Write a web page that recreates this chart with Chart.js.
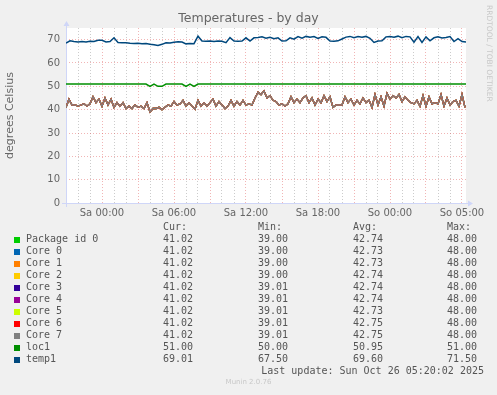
<!DOCTYPE html>
<html lang="de">
<head>
<meta charset="utf-8">
<title>Temperatures - by day</title>
<script src="https://cdn.jsdelivr.net/npm/chart.js@4.4.1/dist/chart.umd.min.js"></script>
<style>
    html, body { margin: 0; padding: 0; background: #f0f0f0; }
    #wrap { position: relative; width: 497px; height: 395px; overflow: hidden; }
    #chart { position: absolute; left: 0; top: 0; }
    #legend { position: absolute; left: 0; top: 0; width: 497px; height: 395px;
              font: 10px 'DejaVu Sans Mono', monospace; color: #555; }
    .cell { position: absolute; height: 12px; line-height: 12px; white-space: pre; }
    .swatch { position: absolute; width: 6px; height: 6px; }
    #footer { position: absolute; left: 0; width: 497px; top: 378px; text-align: center;
              font: 7px 'DejaVu Sans', sans-serif; color: #c8c8c8; }
</style>
</head>
<body>
<div id="wrap">
    <canvas id="chart" width="497" height="395"></canvas>
    <div id="legend"></div>
    <div id="footer">Munin 2.0.76</div>
</div>
<script>
// ====== Chart.js Grundeinstellungen (Munin-Look) ======
Chart.defaults.font.family = "'DejaVu Sans', sans-serif";
Chart.defaults.font.size = 10;
Chart.defaults.color = '#666666';

// ====== Serien & Legende ======
const seriesNames  = ['Package id 0', 'Core 0', 'Core 1', 'Core 2', 'Core 3', 'Core 4', 'Core 5', 'Core 6', 'Core 7', 'loc1', 'temp1'];
const seriesColors = ['#00cc00', '#0066b3', '#ff8000', '#ffcc00', '#330099', '#990099', '#ccff00', '#ff0000', '#808080', '#008f00', '#00487d'];
const curValues = ['41.02', '41.02', '41.02', '41.02', '41.02', '41.02', '41.02', '41.02', '41.02', '51.00', '69.01'];
const minValues = ['39.00', '39.00', '39.00', '39.00', '39.01', '39.01', '39.01', '39.01', '39.01', '50.00', '67.50'];
const avgValues = ['42.74', '42.73', '42.73', '42.74', '42.74', '42.74', '42.73', '42.75', '42.75', '50.95', '69.60'];
const maxValues = ['48.00', '48.00', '48.00', '48.00', '48.00', '48.00', '48.00', '48.00', '48.00', '51.00', '71.50'];
const lastUpdate = 'Last update: Sun Oct 26 05:20:02 2025';

// ====== Messwerte (Stunden ab linkem Rand, 12 px pro Stunde) ======
// Package id 0 und Core 0..7 liegen praktisch aufeinander -> eine Reihe, 15-Minuten-Raster
const coreStepHours = 0.25;
const coreTemps = [
    41, 44.5, 42,
    42, 41.5, 42, 42.5, 41.5, 42.5,
    45.5, 43, 44.5,
    41.5, 45, 42, 44.5, 41, 43,
    41.5, 43,
    40.5, 41.5, 40.5, 42, 41, 41.5, 40.5, 43,
    39, 40.5, 40.5, 41, 40, 41,
    42, 41.5, 43.5, 42, 42.5, 44, 41.5, 43,
    41.5, 40.2,
    44, 41.5, 43, 41.5, 43,
    44.5, 41.5, 43.5, 42,
    40.5, 41.5,
    44, 41.5, 43.5, 42, 44, 42,
    42.5, 42,
    45, 47.5, 46.5, 48,
    45, 46, 44, 43.5,
    42, 42.5, 41.5, 42.5,
    45.5, 43,
    44.5, 43, 45,
    46, 43,
    45, 42, 44.5, 43,
    46, 43.5, 45.5, 41,
    42, 42, 42, 45.5,
    43, 44.5, 42, 44, 42.5, 45, 43, 44,
    41, 46.5, 42, 45.5, 41.5, 47,
    44.5, 46, 45, 46.5,
    43.5, 45.5, 44, 43,
    42.5, 44,
    41.5, 46, 41.5, 45.5,
    42.5, 43, 42.5,
    46.5, 41.5, 45, 42,
    43.5, 44,
    41.5, 46.5, 41,
];

// loc1 und temp1 im 20-Minuten-Raster
const boardStepHours = 1 / 3;
const loc1Temps = [
    51, 51, 51, 51, 51, 51, 51, 51, 51, 51,
    51, 51, 51, 51, 51, 51, 51, 51, 51, 51,
    51, 50, 51, 50, 50, 51, 51, 51, 51, 51,
    50, 51, 50, 51, 51, 51, 51, 51, 51, 51,
    51, 51, 51, 51, 51, 51, 51, 51, 51, 51,
    51, 51, 51, 51, 51, 51, 51, 51, 51, 51,
    51, 51, 51, 51, 51, 51, 51, 51, 51, 51,
    51, 51, 51, 51, 51, 51, 51, 51, 51, 51,
    51, 51, 51, 51, 51, 51, 51, 51, 51, 51,
    51, 51, 51, 51, 51, 51, 51, 51, 51, 51,
    51,
];
const temp1Temps = [
    68.5, 69.5, 69.2, 69.0, 69.2, 69.0, 69.3, 69.2, 69.7, 69.7,
    69.0, 69.2, 70.8, 68.8, 68.7, 68.7, 68.5, 68.4, 68.5, 68.3,
    68.4, 68.0, 67.8, 67.5, 68.0, 68.7, 68.6, 68.9, 69.1, 69.0,
    68.2, 68.4, 68.3, 71.5, 69.4, 69.3, 69.4, 69.2, 69.4, 69.3,
    68.7, 70.9, 69.4, 69.3, 69.4, 70.8, 69.4, 70.8, 70.9, 71.2,
    70.6, 71.0, 70.4, 70.8, 69.4, 69.5, 70.8, 70.2, 71.3, 70.6,
    71.4, 71.0, 71.3, 70.5, 71.2, 71.0, 69.4, 69.3, 69.5, 70.3,
    71.1, 71.4, 70.8, 71.3, 71.0, 71.4, 70.6, 68.8, 69.4, 69.5,
    71.2, 71.4, 71.0, 71.5, 70.8, 71.4, 71.2, 68.9, 71.3, 68.8,
    71.2, 69.5, 70.8, 71.2, 70.7, 70.9, 71.3, 69.2, 70.4, 69.2,
    69.0,
];

// ====== Achsen ======
const spanHours = 400 / 12;              // 400 px Zeichenfläche
const xTickHours  = [3, 9, 15, 21, 27, 33];
const xTickLabels = ['Sa 00:00', 'Sa 06:00', 'Sa 12:00', 'Sa 18:00', 'So 00:00', 'So 05:00'];
const yMax = 75;

const COLORS = {
    grid: 'rgba(143, 143, 143, 0.45)',
    mgrid: 'rgba(222, 79, 79, 0.42)',
    axis: '#cfd6f8',
    font: '#666666',
};

const toPoints = (values, step) => values.map((y, i) => ({ x: i * step, y }));

const sources = seriesNames.map((name) => {
    if (name === 'loc1') return toPoints(loc1Temps, boardStepHours);
    if (name === 'temp1') return toPoints(temp1Temps, boardStepHours);
    return toPoints(coreTemps, coreStepHours);
});

// Munin zeichnet in Legendenreihenfolge -> spätere Reihen liegen oben
const datasets = seriesNames.map((name, i) => ({
    label: name,
    data: sources[i],
    borderColor: seriesColors[i],
    borderWidth: (name === 'loc1' || name === 'temp1') ? 1.5 : 1.3,
    pointRadius: 0,
    tension: 0,
    fill: false,
    order: seriesNames.length - i,
}));

// ====== Rahmen, Pfeile, Titel ======
const muninFrame = {
    id: 'muninFrame',
    beforeDraw(chart) {
        const { ctx, chartArea: a } = chart;
        ctx.save();
        ctx.fillStyle = '#f0f0f0';
        ctx.fillRect(0, 0, chart.width, chart.height);
        ctx.fillStyle = '#ffffff';
        ctx.fillRect(a.left, a.top, a.right - a.left, a.bottom - a.top);
        ctx.restore();
    },
    beforeDatasetsDraw(chart) {
        const { ctx, chartArea: a } = chart;
        const lx = a.left + 0.5, by = a.bottom + 0.5;
        ctx.save();
        ctx.strokeStyle = COLORS.axis;
        ctx.fillStyle = COLORS.axis;
        ctx.lineWidth = 1;
        ctx.beginPath();
        ctx.moveTo(lx, a.bottom + 4);
        ctx.lineTo(lx, a.top - 2);
        ctx.moveTo(a.left - 4, by);
        ctx.lineTo(a.right + 2, by);
        ctx.stroke();
        // Pfeilspitzen
        ctx.beginPath();
        ctx.moveTo(lx, a.top - 7);
        ctx.lineTo(lx - 3, a.top - 2);
        ctx.lineTo(lx + 3, a.top - 2);
        ctx.closePath();
        ctx.moveTo(a.right + 7, by);
        ctx.lineTo(a.right + 2, by - 3);
        ctx.lineTo(a.right + 2, by + 3);
        ctx.closePath();
        ctx.fill();
        ctx.restore();
    },
    afterDraw(chart) {
        const { ctx, chartArea: a } = chart;
        ctx.save();
        ctx.fillStyle = COLORS.font;
        ctx.font = "12.5px 'DejaVu Sans'";
        ctx.textAlign = 'center';
        ctx.textBaseline = 'alphabetic';
        ctx.fillText('Temperatures - by day', 248.5, 22);

        ctx.save();
        ctx.translate(10, (a.top + a.bottom) / 2);
        ctx.rotate(-Math.PI / 2);
        ctx.font = "11px 'DejaVu Sans'";
        ctx.textBaseline = 'middle';
        ctx.fillText('degrees Celsius', 0, 0);
        ctx.restore();

        ctx.translate(488.5, 5);
        ctx.rotate(Math.PI / 2);
        ctx.font = "7.5px 'DejaVu Sans'";
        ctx.fillStyle = '#c8c8c8';
        ctx.textAlign = 'left';
        ctx.textBaseline = 'middle';
        ctx.fillText('RRDTOOL / TOBI OETIKER', 0, 0);
        ctx.restore();
    },
};

const hourTicks = Array.from({ length: 34 }, (_, h) => h);
const degreeTicks = Array.from({ length: yMax / 5 + 1 }, (_, k) => k * 5);

new Chart(document.getElementById('chart').getContext('2d'), {
    type: 'line',
    data: { datasets },
    options: {
        responsive: false,
        animation: false,
        devicePixelRatio: 1,
        layout: { padding: { left: 20, right: 31, top: 28, bottom: 172 } },
        plugins: { legend: { display: false }, tooltip: { enabled: false } },
        scales: {
            x: {
                type: 'linear',
                min: 0,
                max: spanHours,
                afterBuildTicks: (scale) => { scale.ticks = hourTicks.map((value) => ({ value })); },
                afterFit: (scale) => { scale.height = 20; },
                grid: {
                    drawTicks: false,
                    lineWidth: 1,
                    color: (c) => (c.tick && c.tick.value % 3 === 0 ? COLORS.mgrid : COLORS.grid),
                },
                border: { display: false, dash: [1, 2] },
                ticks: {
                    autoSkip: false,
                    maxRotation: 0,
                    minRotation: 0,
                    padding: 4,
                    color: COLORS.font,
                    callback: (v) => {
                        const k = xTickHours.indexOf(v);
                        return k >= 0 ? xTickLabels[k] : '';
                    },
                },
            },
            y: {
                min: 0,
                max: yMax,
                afterBuildTicks: (scale) => { scale.ticks = degreeTicks.map((value) => ({ value })); },
                afterFit: (scale) => { scale.width = 46; },
                grid: {
                    drawTicks: false,
                    lineWidth: 1,
                    color: (c) => (c.tick && c.tick.value % 10 === 0 ? COLORS.mgrid : COLORS.grid),
                },
                border: { display: false, dash: [1, 2] },
                ticks: {
                    padding: 6,
                    color: COLORS.font,
                    callback: (v) => (v % 10 === 0 ? String(v) : ''),
                },
            },
        },
    },
    plugins: [muninFrame],
});

// ====== Legende (Munin-Tabelle) ======
const legendEl = document.getElementById('legend');
const COLS = { label: 26, cur: 163, min: 258, avg: 353, max: 447 };
const HEADER_Y = 227.5;
const ROW_Y = 239.5;
const ROW_H = 12;

function addCell(text, x, cy) {
    const d = document.createElement('div');
    d.className = 'cell';
    d.textContent = text;
    d.style.left = x + 'px';
    d.style.top = (cy - 6.5) + 'px';
    legendEl.appendChild(d);
    return d;
}

addCell('Cur:', COLS.cur, HEADER_Y);
addCell('Min:', COLS.min, HEADER_Y);
addCell('Avg:', COLS.avg, HEADER_Y);
addCell('Max:', COLS.max, HEADER_Y);

seriesNames.forEach((name, i) => {
    const cy = ROW_Y + i * ROW_H;
    const sw = document.createElement('div');
    sw.className = 'swatch';
    sw.style.left = '14px';
    sw.style.top = (cy - 3) + 'px';
    sw.style.background = seriesColors[i];
    legendEl.appendChild(sw);
    addCell(name, COLS.label, cy);
    addCell(curValues[i], COLS.cur, cy);
    addCell(minValues[i], COLS.min, cy);
    addCell(avgValues[i], COLS.avg, cy);
    addCell(maxValues[i], COLS.max, cy);
});

const upd = addCell(lastUpdate, 0, ROW_Y + seriesNames.length * ROW_H);
upd.style.left = 'auto';
upd.style.right = '13px';
</script>
</body>
</html>
